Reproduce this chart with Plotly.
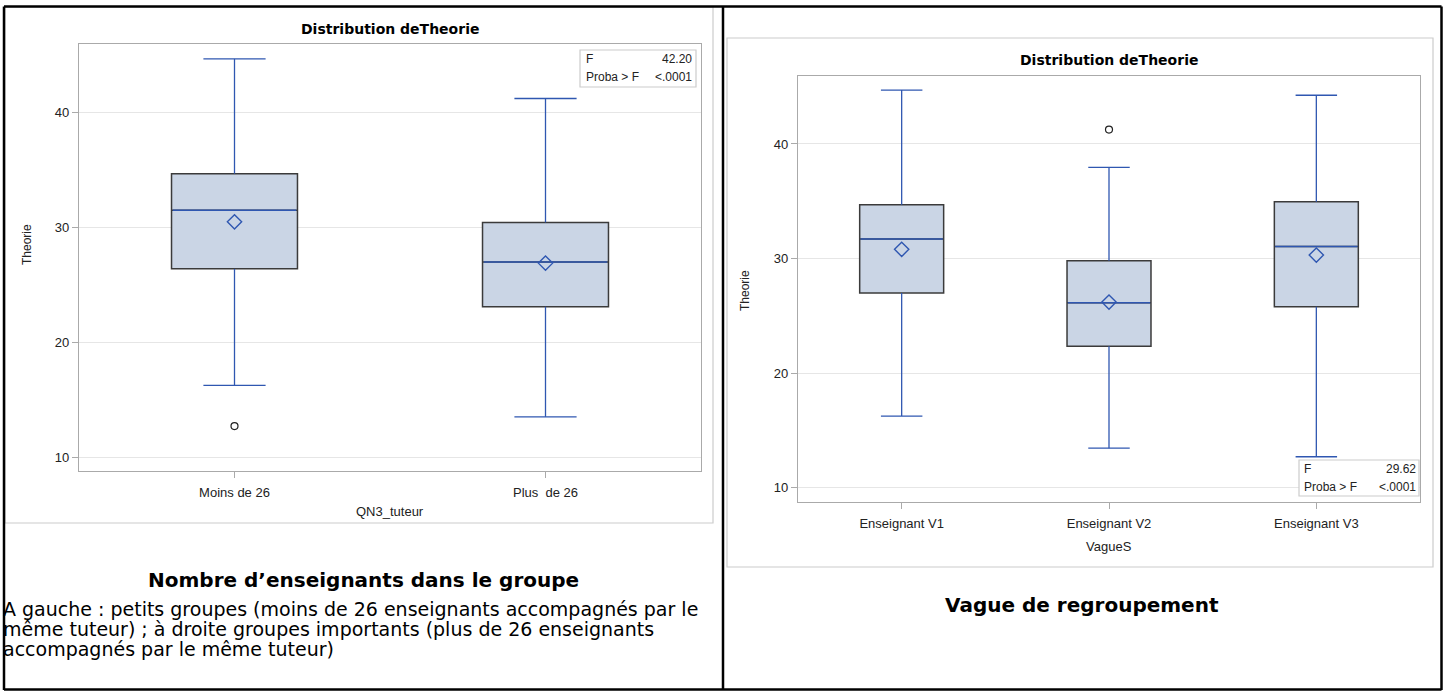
import plotly.graph_objects as go

W, H = 1448, 691

# --- Graphique 1 : QN3_tuteur ---
groupes_tuteur = ["Moins de 26", "Plus  de 26"]
q1_tuteur = [26.4, 23.1]
mediane_tuteur = [31.5, 27.0]
q3_tuteur = [34.7, 30.45]
min_tuteur = [16.25, 13.5]
max_tuteur = [44.7, 41.25]
moyenne_tuteur = [30.5, 26.9]
atyp_groupe_tuteur = ["Moins de 26"]
atyp_val_tuteur = [12.7]
stats_tuteur = [("F", "42.20"), ("Proba > F", "<.0001")]

# --- Graphique 2 : VagueS ---
groupes_vague = ["Enseignant V1", "Enseignant V2", "Enseignant V3"]
q1_vague = [27.0, 22.35, 25.8]
mediane_vague = [31.7, 26.15, 31.05]
q3_vague = [34.7, 29.8, 34.95]
min_vague = [16.25, 13.45, 12.7]
max_vague = [44.7, 37.95, 44.25]
moyenne_vague = [30.8, 26.2, 30.3]
atyp_groupe_vague = ["Enseignant V2"]
atyp_val_vague = [41.25]
stats_vague = [("F", "29.62"), ("Proba > F", "<.0001")]

y_ticks = [10, 20, 30, 40]

FILL = "#CAD5E5"
EDGE = "#3b3b3b"
BLUE = "#2F57B1"
BOX_W = 0.405
CAP_W = 0.2
CHART_FONT = "Liberation Sans, Arial, sans-serif"


def X(px):
    return px / W


def Y(py):
    return 1 - py / H


def add_boxplot(fig, groupes, q1, med, q3, lo, hi, moy, atyp_g, atyp_v, xa, ya):
    pos = list(range(len(groupes)))

    # whiskers + caps
    wx, wy = [], []
    for p, a, b, c, d in zip(pos, lo, q1, q3, hi):
        wx += [p, p, None, p - CAP_W / 2, p + CAP_W / 2, None,
               p, p, None, p - CAP_W / 2, p + CAP_W / 2, None]
        wy += [c, d, None, d, d, None, a, b, None, a, a, None]
    fig.add_trace(go.Scatter(x=wx, y=wy, mode="lines", xaxis=xa, yaxis=ya,
                             line=dict(color=BLUE, width=1.3), hoverinfo="skip"))

    fig.add_trace(go.Box(
        x=pos, q1=q1, median=med, q3=q3, lowerfence=q1, upperfence=q3,
        width=BOX_W, fillcolor=FILL, line=dict(color=EDGE, width=1.5),
        whiskerwidth=0, boxpoints=False, xaxis=xa, yaxis=ya, hoverinfo="skip",
    ))

    mx, my = [], []
    for p, m in zip(pos, med):
        mx += [p - BOX_W / 2 + 0.004, p + BOX_W / 2 - 0.004, None]
        my += [m, m, None]
    fig.add_trace(go.Scatter(x=mx, y=my, mode="lines", xaxis=xa, yaxis=ya,
                             line=dict(color=BLUE, width=1.5), hoverinfo="skip"))

    fig.add_trace(go.Scatter(
        x=pos, y=moy, mode="markers", xaxis=xa, yaxis=ya, hoverinfo="skip",
        marker=dict(symbol="diamond-open", size=11, color=BLUE, line=dict(width=1.4)),
    ))

    fig.add_trace(go.Scatter(
        x=[groupes.index(g) for g in atyp_g], y=atyp_v, mode="markers",
        xaxis=xa, yaxis=ya, hoverinfo="skip",
        marker=dict(symbol="circle-open", size=7, color="#222", line=dict(width=1.2)),
    ))


def axes(groupes, x_dom, y_dom, y_range):
    xax = dict(
        domain=x_dom, range=[-0.5, len(groupes) - 0.5],
        tickvals=list(range(len(groupes))), ticktext=groupes,
        showgrid=False, zeroline=False, showline=True, mirror=True,
        linecolor="#aaaaaa", linewidth=1.2, ticks="outside", ticklen=6,
        tickcolor="#aaaaaa", ticklabelstandoff=3,
        tickfont=dict(family=CHART_FONT, size=13, color="#222"),
    )
    yax = dict(
        domain=y_dom, range=y_range, tickvals=y_ticks,
        showgrid=True, gridcolor="#e6e6e6", zeroline=False, showline=True,
        mirror=True, linecolor="#aaaaaa", linewidth=1.2, ticks="outside",
        ticklen=6, tickcolor="#aaaaaa",
        tickfont=dict(family=CHART_FONT, size=13, color="#222"),
    )
    return xax, yax


fig = go.Figure()
add_boxplot(fig, groupes_tuteur, q1_tuteur, mediane_tuteur, q3_tuteur, min_tuteur,
            max_tuteur, moyenne_tuteur, atyp_groupe_tuteur, atyp_val_tuteur, "x", "y")
add_boxplot(fig, groupes_vague, q1_vague, mediane_vague, q3_vague, min_vague,
            max_vague, moyenne_vague, atyp_groupe_vague, atyp_val_vague, "x2", "y2")

xa1, ya1 = axes(groupes_tuteur, [X(79), X(701)], [Y(471), Y(44)], [8.78, 46.0])
xa2, ya2 = axes(groupes_vague, [X(798), X(1420)], [Y(502), Y(76)], [8.75, 45.93])
xa1["anchor"], ya1["anchor"] = "y", "x"
xa2["anchor"], ya2["anchor"] = "y2", "x2"

shapes = []
# cadres gris des graphiques
for x0, y0, x1, y1 in [(5, 7, 713, 523), (727, 38, 1433, 567)]:
    shapes.append(dict(type="rect", xref="paper", yref="paper", x0=X(x0), x1=X(x1),
                       y0=Y(y0), y1=Y(y1), line=dict(color="#cccccc", width=1.2)))
# encadrés statistiques
for x0, y0, x1, y1 in [(580, 50, 696, 87), (1299, 460, 1419, 496)]:
    shapes.append(dict(type="rect", xref="paper", yref="paper", x0=X(x0), x1=X(x1),
                       y0=Y(y0), y1=Y(y1), fillcolor="white",
                       line=dict(color="#cccccc", width=1.2)))
# bordures du tableau
for x0, y0, x1, y1 in [(4, 6.5, 1441.5, 6.5), (4, 6.5, 4, 690), (723, 6.5, 723, 690),
                       (1441.5, 6.5, 1441.5, 690), (4, 689.5, 1441.5, 689.5)]:
    shapes.append(dict(type="line", xref="paper", yref="paper", x0=X(x0), x1=X(x1),
                       y0=Y(y0), y1=Y(y1), line=dict(color="black", width=2.5)))

ann = []


def txt(text, x, y, size, family=CHART_FONT, bold=False, xanchor="center", angle=0, color="#222"):
    ann.append(dict(
        text=f"<b>{text}</b>" if bold else text, x=X(x), y=Y(y), xref="paper", yref="paper",
        xanchor=xanchor, yanchor="middle", showarrow=False, textangle=angle,
        font=dict(family=family, size=size, color=color),
    ))


for cx, ty in [(390, 29), (1109, 60)]:
    txt("Distribution deTheorie", cx, ty, 14, family="DejaVu Sans", bold=True, color="black")
txt("Theorie", 27, 245, 12, angle=-90)
txt("Theorie", 745, 290, 12, angle=-90)
txt("QN3_tuteur", 390, 512, 13)
txt("VagueS", 1109, 546, 13)

for (lab, val), yy in zip(stats_tuteur, [59, 77]):
    txt(lab, 584, yy, 12, xanchor="left")
    txt(val, 694, yy, 12, xanchor="right")
for (lab, val), yy in zip(stats_vague, [469, 487]):
    txt(lab, 1302, yy, 12, xanchor="left")
    txt(val, 1418, yy, 12, xanchor="right")

txt("Nombre d’enseignants dans le groupe", 363, 580, 20, family="DejaVu Sans", bold=True, color="black")
txt("Vague de regroupement", 1082, 605, 20, family="DejaVu Sans", bold=True, color="black")

paragraphe = [
    "A gauche : petits groupes (moins de 26 enseignants accompagnés par le",
    "même tuteur) ; à droite groupes importants (plus de 26 enseignants",
    "accompagnés par le même tuteur)",
]
for ligne, yy in zip(paragraphe, [609, 629, 649]):
    txt(ligne, 1, yy, 19, family="DejaVu Sans", xanchor="left", color="black")

fig.update_layout(
    width=W, height=H, margin=dict(l=0, r=0, t=0, b=0),
    paper_bgcolor="white", plot_bgcolor="white", showlegend=False,
    xaxis=xa1, yaxis=ya1, xaxis2=xa2, yaxis2=ya2,
    shapes=shapes, annotations=ann,
)

fig.write_html(
    "out.html",
    config={"displayModeBar": False},
    post_script="document.body.style.margin='0';document.body.style.overflow='hidden';",
)
